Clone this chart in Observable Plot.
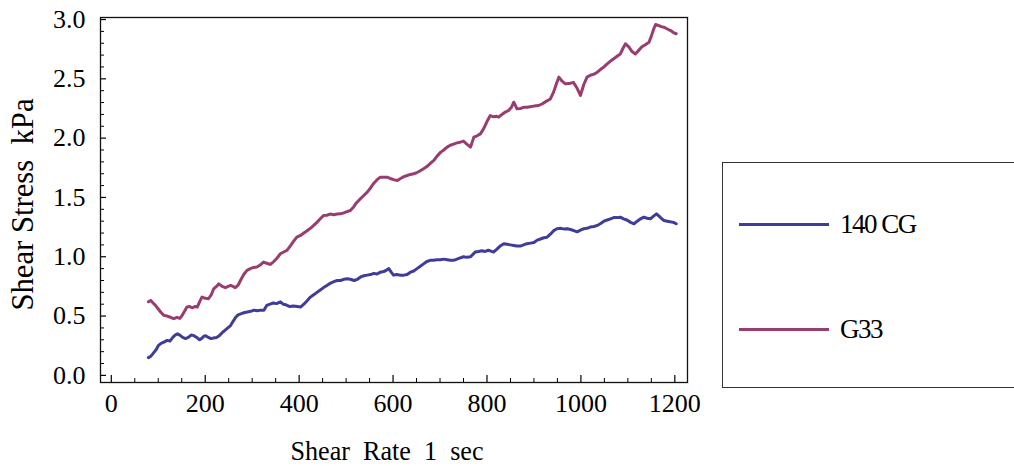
<!DOCTYPE html>
<html><head><meta charset="utf-8">
<script src="https://cdn.jsdelivr.net/npm/d3@7"></script>
<script src="https://cdn.jsdelivr.net/npm/@observablehq/plot@0.6"></script>
<style>
body{margin:0;background:#fff;overflow:hidden;}
#wrap{position:relative;width:1014px;height:466px;overflow:hidden;}
#legend{position:absolute;left:722px;top:162px;width:320px;height:226px;border:1.3px solid #333;box-sizing:border-box;font-family:"Liberation Serif","Times New Roman",serif;font-size:27px;letter-spacing:-1.5px;color:#000;}
.item{position:absolute;left:16px;height:30px;display:flex;align-items:center;}
.swatch{width:90px;height:3px;margin-right:11px;}
</style>
</head><body><div id="wrap"><div id="legend"></div></div>
<script>
const seriesNames = ["140 CG", "G33"];
const seriesColors = ["rgb(63,61,153)", "rgb(153,61,113)"];

const rate140 = [79,84,90,96,100,106,112,119,125,131,136,141,146,152,158,164,170,176,182,188,192,197,201,207,212,218,224,230,236,242,248,254,260,265,270,277,284,290,297,304,311,318,325,331,338,345,352,360,366,372,380,388,396,403,410,417,424,431,438,445,452,460,467,474,481,488,495,502,509,517,524,531,538,545,552,559,566,573,580,587,591,596,601,608,616,623,630,637,644,651,658,665,672,679,686,693,701,708,715,722,729,736,743,750,757,765,770,775,782,789,796,803,810,814,820,828,836,843,850,857,864,871,878,885,893,900,907,914,921,928,935,942,949,956,963,971,978,985,992,999,1006,1013,1020,1028,1035,1042,1049,1056,1063,1070,1077,1084,1091,1098,1106,1113,1120,1127,1134,1141,1148,1154,1161,1167,1172,1177,1184,1190,1197,1203];
const stress140 = [0.15,0.16,0.19,0.22,0.25,0.27,0.28,0.295,0.29,0.32,0.34,0.35,0.34,0.32,0.31,0.32,0.34,0.335,0.32,0.30,0.31,0.33,0.335,0.32,0.31,0.315,0.32,0.335,0.36,0.38,0.40,0.42,0.46,0.49,0.51,0.52,0.53,0.535,0.54,0.55,0.545,0.55,0.55,0.59,0.60,0.61,0.605,0.62,0.60,0.595,0.58,0.585,0.58,0.576,0.60,0.63,0.66,0.68,0.70,0.72,0.74,0.76,0.778,0.79,0.80,0.80,0.81,0.815,0.81,0.80,0.81,0.83,0.84,0.845,0.85,0.86,0.855,0.87,0.875,0.89,0.90,0.87,0.845,0.85,0.845,0.845,0.85,0.87,0.88,0.90,0.92,0.94,0.96,0.97,0.97,0.975,0.975,0.98,0.975,0.97,0.97,0.98,0.99,1.0,0.995,1.0,1.02,1.04,1.045,1.05,1.045,1.055,1.045,1.04,1.06,1.09,1.11,1.105,1.10,1.095,1.09,1.09,1.10,1.11,1.115,1.12,1.14,1.15,1.16,1.165,1.19,1.22,1.236,1.24,1.235,1.236,1.23,1.22,1.21,1.225,1.236,1.24,1.25,1.255,1.264,1.28,1.30,1.31,1.32,1.33,1.33,1.334,1.32,1.31,1.29,1.278,1.30,1.32,1.334,1.325,1.32,1.34,1.362,1.34,1.32,1.306,1.30,1.295,1.29,1.278];

const rateG33 = [79,84,89,94,100,106,112,119,126,133,140,146,151,156,161,167,172,178,183,188,193,200,207,213,218,224,229,236,243,249,254,259,264,270,275,282,289,296,303,310,317,324,331,339,346,353,360,367,374,381,388,395,403,410,417,424,431,438,445,452,459,466,474,481,488,495,502,509,516,521,527,536,545,552,559,566,573,580,587,594,601,609,616,623,630,637,644,651,658,665,672,680,687,694,701,708,715,722,729,736,743,750,757,765,772,779,786,793,800,807,814,820,825,832,839,846,852,857,864,871,878,885,892,900,910,918,926,935,942,948,953,960,967,975,984,992,999,1006,1013,1020,1028,1035,1042,1049,1056,1063,1070,1077,1084,1090,1095,1102,1109,1116,1123,1130,1138,1145,1150,1155,1159,1165,1171,1177,1184,1191,1197,1203];
const stressG33 = [0.62,0.632,0.61,0.59,0.56,0.53,0.506,0.50,0.49,0.478,0.49,0.48,0.506,0.54,0.576,0.58,0.57,0.58,0.576,0.62,0.66,0.65,0.646,0.68,0.73,0.75,0.772,0.75,0.739,0.75,0.758,0.75,0.739,0.76,0.80,0.85,0.885,0.90,0.91,0.913,0.93,0.955,0.945,0.935,0.96,0.99,1.025,1.04,1.053,1.09,1.13,1.165,1.18,1.20,1.22,1.24,1.264,1.29,1.32,1.348,1.35,1.36,1.355,1.36,1.362,1.37,1.38,1.39,1.42,1.45,1.475,1.51,1.545,1.58,1.62,1.65,1.671,1.67,1.671,1.66,1.65,1.643,1.66,1.675,1.685,1.694,1.70,1.71,1.725,1.742,1.76,1.79,1.812,1.85,1.88,1.90,1.924,1.94,1.95,1.96,1.966,1.975,1.95,1.924,2.008,2.02,2.036,2.08,2.14,2.19,2.18,2.185,2.177,2.20,2.22,2.233,2.26,2.303,2.247,2.25,2.26,2.26,2.265,2.27,2.275,2.29,2.31,2.33,2.39,2.46,2.514,2.48,2.458,2.46,2.47,2.42,2.36,2.45,2.514,2.53,2.54,2.556,2.58,2.60,2.626,2.65,2.67,2.69,2.71,2.76,2.795,2.77,2.73,2.71,2.74,2.77,2.79,2.809,2.86,2.92,2.958,2.95,2.94,2.935,2.92,2.907,2.89,2.88];

const xTicks = [0, 200, 400, 600, 800, 1000, 1200];
const xMinor = d3.range(0, 1201, 50).filter(v => v % 200 !== 0);
const yTicks = [0, 0.5, 1.0, 1.5, 2.0, 2.5, 3.0];
const yMinor = d3.range(0, 31, 1).map(v => v / 10).filter(v => Math.round(v * 10) % 5 !== 0);
const xTitle = "Shear\u00a0 Rate\u00a0 1\u00a0 sec";
const yTitle = "Shear Stress\u00a0 kPa";

const data = [
  ...rate140.map((r, i) => ({rate: r, stress: stress140[i], series: seriesNames[0]})),
  ...rateG33.map((r, i) => ({rate: r, stress: stressG33[i], series: seriesNames[1]}))
];

const chart = Plot.plot({
  width: 1014,
  height: 466,
  marginLeft: 100,
  marginRight: 327,
  marginTop: 17,
  marginBottom: 84,
  style: "font-family:'Liberation Serif','Times New Roman',serif;font-size:26px;background:transparent;overflow:visible;",
  x: {domain: [-23, 1227]},
  y: {domain: [-0.06, 3.017]},
  color: {domain: seriesNames, range: seriesColors},
  marks: [
    Plot.axisX(xTicks, {tickSize: 0, tickPadding: 11, tickFormat: d => String(d), label: null, fontSize: 26, letterSpacing: -1}),
    Plot.axisX(xTicks, {tickSize: -7, text: null, label: null, strokeWidth: 1.2}),
    Plot.axisX(xMinor, {tickSize: -4, text: null, label: null, strokeWidth: 1}),
    Plot.axisY(yTicks, {tickSize: 0, tickPadding: 15, tickFormat: d => d.toFixed(1), label: null, fontSize: 26, letterSpacing: -1}),
    Plot.axisY(yTicks, {tickSize: -6, text: null, label: null, strokeWidth: 1.2}),
    Plot.axisY(yMinor, {tickSize: -4, text: null, label: null, strokeWidth: 1}),
    Plot.frame({stroke: "#111", strokeWidth: 1.3}),
    Plot.line(data, {x: "rate", y: "stress", z: "series", stroke: "series", strokeWidth: 3, strokeLinejoin: "round"}),
    Plot.text([xTitle], {frameAnchor: "bottom", dx: -7, dy: 68.5, fontSize: 27, lineAnchor: "middle", textAnchor: "middle"}),
    Plot.text([yTitle], {frameAnchor: "left", dx: -77, dy: 4.5, rotate: -90, fontSize: 31, lineAnchor: "middle", textAnchor: "middle"})
  ]
});
chart.querySelectorAll("text").forEach(t => {
  if (t.textContent === xTitle) { t.setAttribute("textLength", 193); t.setAttribute("lengthAdjust", "spacingAndGlyphs"); }
  if (t.textContent === yTitle) { t.setAttribute("textLength", 212); t.setAttribute("lengthAdjust", "spacingAndGlyphs"); }
});
document.getElementById("wrap").prepend(chart);

const legend = document.getElementById("legend");
const tops = [46, 151];
seriesNames.forEach((name, i) => {
  const item = document.createElement("div");
  item.className = "item";
  item.style.top = tops[i] + "px";
  const sw = document.createElement("div");
  sw.className = "swatch";
  sw.style.background = seriesColors[i];
  const label = document.createElement("span");
  label.textContent = name;
  item.appendChild(sw);
  item.appendChild(label);
  legend.appendChild(item);
});
</script>
</body></html>
